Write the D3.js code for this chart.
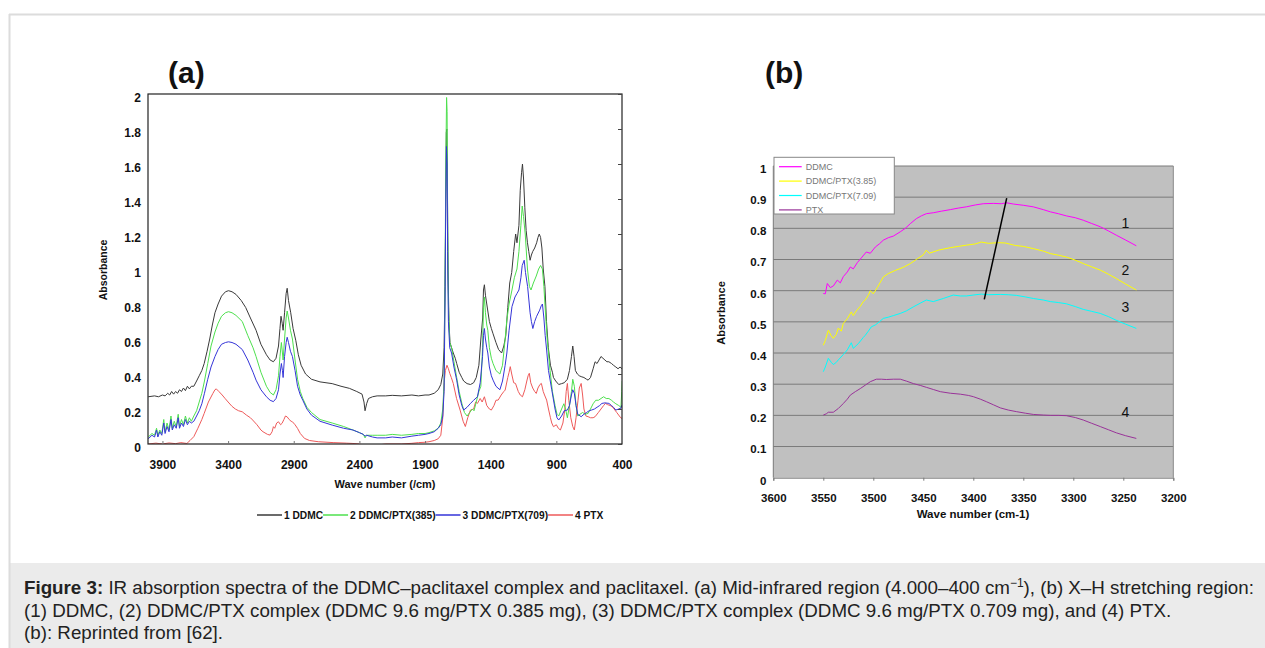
<!DOCTYPE html>
<html><head><meta charset="utf-8">
<script src="https://cdn.jsdelivr.net/npm/d3@7"></script>
<style>body{margin:0;background:#fff}svg{display:block;font-family:"Liberation Sans",Arial,sans-serif}</style>
</head><body>
<script>
// ---------- Panel (a) data: [wavenumber, absorbance] ----------
const seriesNamesA = ["1 DDMC","2 DDMC/PTX(385)","3 DDMC/PTX(709)","4 PTX"];
const xTicksA = [3900,3400,2900,2400,1900,1400,900,400];
const yTicksA = [0,0.2,0.4,0.6,0.8,1,1.2,1.4,1.6,1.8,2];
const ddmcA = [[4008,0.27],[3960,0.275],[3930,0.27],[3900,0.28],[3880,0.275],[3860,0.29],[3845,0.28],[3830,0.3],[3815,0.285],[3800,0.30],[3785,0.29],[3770,0.31],[3755,0.30],[3740,0.32],[3725,0.305],[3710,0.33],[3695,0.315],[3680,0.33],[3661,0.33],[3640,0.36],[3620,0.39],[3600,0.42],[3582,0.46],[3560,0.53],[3540,0.6],[3520,0.68],[3500,0.75],[3476,0.80],[3450,0.845],[3420,0.87],[3397,0.876],[3370,0.87],[3340,0.855],[3300,0.82],[3266,0.78],[3230,0.72],[3187,0.65],[3150,0.57],[3108,0.51],[3080,0.48],[3055,0.47],[3035,0.49],[3016,0.56],[3005,0.66],[2997,0.73],[2988,0.69],[2981,0.65],[2970,0.75],[2958,0.86],[2950,0.89],[2940,0.82],[2923,0.75],[2905,0.66],[2884,0.59],[2865,0.51],[2844,0.45],[2810,0.40],[2765,0.37],[2700,0.355],[2607,0.345],[2540,0.33],[2476,0.318],[2420,0.30],[2380,0.285],[2365,0.24],[2357,0.19],[2345,0.23],[2331,0.26],[2300,0.27],[2265,0.275],[2200,0.275],[2150,0.278],[2080,0.275],[2000,0.28],[1950,0.275],[1900,0.28],[1870,0.28],[1830,0.29],[1800,0.31],[1780,0.34],[1765,0.40],[1755,0.55],[1748,0.9],[1742,1.4],[1738,1.78],[1734,1.80],[1730,1.5],[1725,1.0],[1718,0.7],[1710,0.58],[1698,0.55],[1685,0.52],[1670,0.49],[1659,0.46],[1640,0.41],[1620,0.38],[1606,0.36],[1580,0.345],[1554,0.34],[1530,0.35],[1510,0.38],[1490,0.45],[1475,0.6],[1461,0.72],[1455,0.88],[1448,0.91],[1440,0.85],[1430,0.8],[1422,0.76],[1410,0.7],[1395,0.66],[1382,0.63],[1360,0.58],[1340,0.54],[1317,0.52],[1300,0.56],[1285,0.62],[1270,0.78],[1255,0.92],[1240,0.98],[1225,1.1],[1210,1.2],[1200,1.15],[1185,1.25],[1175,1.45],[1165,1.55],[1158,1.6],[1150,1.52],[1140,1.35],[1130,1.22],[1120,1.15],[1110,1.10],[1100,1.05],[1090,1.08],[1080,1.1],[1065,1.12],[1050,1.15],[1040,1.18],[1030,1.2],[1020,1.18],[1010,1.12],[1000,1.0],[987,0.9],[975,0.7],[961,0.55],[945,0.45],[930,0.41],[922,0.38],[905,0.36],[882,0.34],[860,0.345],[840,0.35],[816,0.37],[800,0.42],[785,0.5],[775,0.56],[765,0.5],[755,0.42],[740,0.40],[725,0.39],[711,0.385],[690,0.38],[670,0.37],[658,0.365],[640,0.38],[620,0.43],[605,0.47],[590,0.46],[575,0.48],[560,0.5],[545,0.49],[530,0.48],[515,0.47],[500,0.47],[480,0.46],[465,0.45],[447,0.44],[430,0.43],[415,0.44],[400,0.43]];
const ptx385A = [[4008,0.04],[3980,0.06],[3960,0.05],[3945,0.09],[3935,0.05],[3920,0.08],[3905,0.06],[3890,0.14],[3880,0.07],[3865,0.12],[3850,0.08],[3835,0.16],[3825,0.09],[3810,0.13],[3795,0.10],[3780,0.17],[3770,0.10],[3755,0.14],[3740,0.11],[3725,0.16],[3710,0.12],[3695,0.15],[3680,0.13],[3661,0.16],[3640,0.19],[3620,0.24],[3600,0.29],[3580,0.36],[3555,0.46],[3530,0.56],[3500,0.64],[3476,0.69],[3450,0.73],[3420,0.75],[3397,0.756],[3370,0.75],[3340,0.735],[3292,0.70],[3250,0.62],[3210,0.55],[3187,0.50],[3150,0.41],[3108,0.33],[3080,0.295],[3055,0.28],[3035,0.31],[3016,0.39],[3005,0.5],[2994,0.58],[2986,0.52],[2981,0.48],[2970,0.6],[2958,0.72],[2950,0.76],[2940,0.72],[2925,0.65],[2910,0.6],[2890,0.48],[2871,0.37],[2850,0.30],[2831,0.26],[2800,0.21],[2765,0.18],[2700,0.14],[2607,0.12],[2520,0.10],[2449,0.08],[2400,0.065],[2370,0.055],[2357,0.035],[2345,0.05],[2300,0.05],[2265,0.05],[2200,0.05],[2150,0.055],[2080,0.05],[2000,0.055],[1950,0.06],[1900,0.06],[1870,0.065],[1830,0.075],[1800,0.09],[1780,0.12],[1765,0.2],[1755,0.35],[1748,0.9],[1742,1.6],[1736,1.98],[1732,1.9],[1728,1.3],[1722,0.8],[1712,0.58],[1698,0.55],[1680,0.47],[1659,0.38],[1640,0.3],[1619,0.23],[1600,0.18],[1580,0.16],[1560,0.18],[1540,0.2],[1527,0.19],[1510,0.24],[1490,0.3],[1475,0.33],[1462,0.55],[1455,0.78],[1448,0.84],[1440,0.75],[1430,0.68],[1422,0.65],[1410,0.55],[1395,0.49],[1382,0.46],[1360,0.42],[1330,0.40],[1310,0.45],[1290,0.6],[1277,0.71],[1260,0.8],[1238,0.88],[1220,0.95],[1200,1.0],[1185,1.1],[1170,1.25],[1160,1.36],[1150,1.3],[1137,1.2],[1120,1.0],[1105,0.9],[1093,0.88],[1075,0.92],[1053,0.96],[1035,1.0],[1020,1.02],[1006,1.0],[995,0.9],[987,0.8],[970,0.6],[948,0.42],[930,0.3],[910,0.22],[895,0.17],[882,0.16],[860,0.2],[843,0.23],[830,0.2],[816,0.15],[800,0.22],[785,0.3],[775,0.37],[763,0.33],[750,0.22],[737,0.16],[720,0.17],[700,0.18],[680,0.17],[658,0.175],[640,0.2],[620,0.23],[600,0.25],[579,0.25],[560,0.26],[540,0.27],[520,0.26],[500,0.26],[480,0.25],[465,0.24],[447,0.23],[425,0.22],[408,0.21],[402,0.3],[398,0.36]];
const ptx709A = [[4008,0.03],[3980,0.05],[3960,0.04],[3945,0.08],[3935,0.04],[3920,0.07],[3905,0.05],[3890,0.12],[3880,0.06],[3865,0.10],[3850,0.07],[3835,0.14],[3825,0.08],[3810,0.11],[3795,0.09],[3780,0.15],[3770,0.09],[3755,0.12],[3740,0.10],[3725,0.14],[3710,0.11],[3695,0.13],[3680,0.12],[3661,0.13],[3640,0.16],[3620,0.19],[3600,0.23],[3580,0.29],[3555,0.37],[3530,0.44],[3500,0.5],[3476,0.54],[3450,0.57],[3420,0.58],[3397,0.584],[3370,0.58],[3340,0.57],[3292,0.54],[3250,0.48],[3210,0.41],[3187,0.365],[3150,0.31],[3108,0.27],[3080,0.25],[3055,0.242],[3035,0.26],[3016,0.31],[3005,0.4],[2994,0.46],[2986,0.42],[2981,0.38],[2970,0.5],[2958,0.58],[2950,0.61],[2940,0.58],[2925,0.53],[2910,0.5],[2890,0.42],[2871,0.33],[2850,0.28],[2831,0.25],[2800,0.2],[2765,0.165],[2700,0.13],[2607,0.108],[2520,0.09],[2449,0.08],[2400,0.065],[2370,0.055],[2357,0.045],[2345,0.05],[2300,0.04],[2265,0.035],[2200,0.035],[2150,0.04],[2080,0.035],[2000,0.045],[1950,0.05],[1900,0.055],[1870,0.06],[1830,0.07],[1800,0.09],[1780,0.11],[1765,0.16],[1755,0.3],[1748,0.8],[1742,1.4],[1737,1.70],[1732,1.6],[1728,1.1],[1722,0.7],[1712,0.55],[1698,0.52],[1680,0.44],[1659,0.365],[1640,0.28],[1620,0.22],[1606,0.194],[1580,0.21],[1554,0.232],[1530,0.25],[1501,0.27],[1480,0.35],[1462,0.5],[1455,0.62],[1448,0.66],[1440,0.6],[1430,0.55],[1422,0.52],[1410,0.44],[1395,0.39],[1382,0.365],[1360,0.33],[1330,0.31],[1310,0.36],[1290,0.45],[1277,0.52],[1260,0.65],[1238,0.785],[1215,0.84],[1200,0.86],[1185,0.88],[1170,0.95],[1160,1.02],[1145,1.05],[1135,0.98],[1119,0.9],[1100,0.75],[1090,0.7],[1079,0.66],[1065,0.7],[1050,0.73],[1027,0.765],[1015,0.79],[1006,0.8],[995,0.72],[985,0.62],[974,0.537],[960,0.42],[935,0.31],[910,0.2],[895,0.15],[882,0.137],[860,0.16],[840,0.19],[816,0.194],[800,0.22],[785,0.28],[775,0.31],[763,0.29],[750,0.22],[737,0.17],[711,0.156],[690,0.17],[670,0.18],[650,0.19],[632,0.194],[610,0.2],[590,0.21],[570,0.22],[553,0.232],[530,0.235],[500,0.232],[480,0.22],[465,0.21],[447,0.194],[425,0.2],[408,0.205],[402,0.22],[398,0.21]];
const ptxA = [[4008,0.0],[3950,0.005],[3900,0.0],[3850,0.006],[3800,0.002],[3760,0.008],[3714,0.003],[3690,0.02],[3661,0.042],[3630,0.09],[3600,0.14],[3582,0.175],[3550,0.24],[3516,0.289],[3500,0.31],[3490,0.315],[3470,0.30],[3445,0.28],[3424,0.261],[3400,0.24],[3370,0.215],[3345,0.2],[3320,0.19],[3292,0.184],[3260,0.165],[3230,0.15],[3213,0.137],[3180,0.11],[3150,0.08],[3134,0.07],[3100,0.055],[3081,0.051],[3065,0.07],[3055,0.099],[3045,0.09],[3030,0.12],[3016,0.127],[3000,0.11],[2989,0.118],[2975,0.14],[2963,0.16],[2950,0.155],[2935,0.14],[2920,0.13],[2910,0.127],[2890,0.11],[2871,0.089],[2850,0.06],[2818,0.032],[2780,0.02],[2713,0.013],[2600,0.008],[2500,0.005],[2449,0.003],[2400,0.0],[2370,-0.005],[2357,-0.016],[2345,-0.008],[2300,-0.004],[2265,-0.006],[2200,0.0],[2080,0.0],[2000,0.004],[1950,0.008],[1900,0.01],[1870,0.013],[1830,0.02],[1800,0.03],[1780,0.05],[1765,0.15],[1755,0.35],[1745,0.42],[1733,0.45],[1722,0.43],[1712,0.404],[1700,0.38],[1685,0.346],[1660,0.26],[1633,0.194],[1610,0.13],[1593,0.1],[1575,0.15],[1554,0.194],[1530,0.2],[1515,0.24],[1501,0.232],[1480,0.26],[1465,0.24],[1448,0.27],[1430,0.22],[1410,0.2],[1395,0.194],[1375,0.22],[1360,0.25],[1343,0.251],[1320,0.28],[1300,0.3],[1290,0.308],[1270,0.38],[1260,0.41],[1251,0.442],[1240,0.4],[1225,0.35],[1211,0.346],[1190,0.3],[1175,0.28],[1158,0.27],[1140,0.31],[1125,0.36],[1115,0.39],[1106,0.404],[1095,0.35],[1080,0.32],[1065,0.3],[1053,0.289],[1040,0.32],[1025,0.34],[1014,0.346],[1000,0.3],[990,0.28],[974,0.251],[960,0.2],[945,0.15],[935,0.12],[922,0.099],[900,0.11],[885,0.09],[869,0.08],[850,0.12],[835,0.2],[825,0.3],[816,0.346],[805,0.25],[790,0.15],[775,0.1],[763,0.08],[750,0.15],[735,0.25],[725,0.32],[711,0.346],[700,0.28],[690,0.2],[675,0.16],[658,0.156],[640,0.15],[620,0.15],[605,0.156],[580,0.18],[560,0.2],[540,0.22],[526,0.232],[510,0.225],[490,0.22],[474,0.213],[460,0.2],[440,0.18],[420,0.16],[410,0.15],[400,0.146]];

// ---------- Panel (b) data ----------
const seriesNamesB = ["DDMC","DDMC/PTX(3.85)","DDMC/PTX(7.09)","PTX"];
const xTicksB = [3600,3550,3500,3450,3400,3350,3300,3250,3200];
const yTicksB = [0,0.1,0.2,0.3,0.4,0.5,0.6,0.7,0.8,0.9,1];
const ddmcB = [[3550,0.591],[3548,0.59],[3546,0.623],[3543,0.61],[3540,0.615],[3536,0.634],[3533,0.625],[3530,0.645],[3526,0.66],[3523,0.676],[3520,0.67],[3516,0.69],[3512,0.705],[3507,0.724],[3503,0.72],[3498,0.74],[3494,0.75],[3490,0.762],[3485,0.77],[3480,0.775],[3473,0.789],[3468,0.8],[3463,0.815],[3457,0.831],[3452,0.84],[3447,0.847],[3440,0.85],[3432,0.855],[3423,0.86],[3415,0.865],[3407,0.869],[3398,0.875],[3390,0.879],[3380,0.88],[3372,0.879],[3367,0.882],[3360,0.878],[3350,0.874],[3340,0.869],[3330,0.86],[3323,0.853],[3315,0.847],[3307,0.84],[3298,0.834],[3290,0.826],[3282,0.816],[3273,0.805],[3265,0.792],[3257,0.778],[3248,0.763],[3237,0.744]];
const ptx385B = [[3550,0.425],[3548,0.44],[3545,0.473],[3542,0.455],[3540,0.447],[3537,0.46],[3535,0.48],[3532,0.47],[3530,0.495],[3526,0.51],[3522,0.532],[3520,0.52],[3517,0.535],[3513,0.55],[3510,0.565],[3508,0.57],[3505,0.585],[3503,0.6],[3500,0.59],[3496,0.61],[3490,0.644],[3485,0.655],[3478,0.665],[3470,0.675],[3463,0.687],[3457,0.7],[3450,0.715],[3447,0.73],[3444,0.72],[3435,0.73],[3423,0.738],[3415,0.742],[3407,0.746],[3398,0.75],[3392,0.756],[3385,0.752],[3375,0.754],[3368,0.753],[3358,0.745],[3350,0.742],[3340,0.735],[3330,0.727],[3323,0.719],[3315,0.714],[3307,0.708],[3298,0.698],[3290,0.687],[3282,0.677],[3273,0.666],[3265,0.653],[3257,0.639],[3248,0.622],[3237,0.602]];
const ptx709B = [[3550,0.34],[3548,0.355],[3545,0.383],[3542,0.37],[3540,0.363],[3537,0.37],[3535,0.378],[3530,0.395],[3526,0.41],[3522,0.433],[3520,0.415],[3515,0.43],[3510,0.45],[3508,0.457],[3505,0.47],[3502,0.484],[3498,0.49],[3494,0.5],[3490,0.511],[3485,0.515],[3480,0.52],[3473,0.527],[3467,0.535],[3460,0.548],[3453,0.56],[3447,0.57],[3440,0.565],[3430,0.575],[3420,0.586],[3413,0.583],[3407,0.583],[3400,0.586],[3392,0.589],[3385,0.587],[3373,0.588],[3365,0.587],[3357,0.585],[3348,0.58],[3340,0.575],[3330,0.57],[3323,0.565],[3315,0.562],[3307,0.558],[3298,0.549],[3290,0.54],[3282,0.534],[3273,0.527],[3265,0.517],[3257,0.505],[3248,0.493],[3237,0.479]];
const ptxB = [[3550,0.201],[3547,0.205],[3545,0.21],[3540,0.21],[3535,0.222],[3530,0.238],[3526,0.252],[3523,0.265],[3518,0.276],[3513,0.286],[3508,0.297],[3503,0.308],[3497,0.316],[3492,0.316],[3487,0.315],[3480,0.316],[3473,0.316],[3467,0.31],[3460,0.302],[3453,0.296],[3447,0.29],[3440,0.283],[3433,0.276],[3423,0.271],[3413,0.268],[3405,0.264],[3400,0.26],[3393,0.252],[3387,0.244],[3380,0.234],[3373,0.224],[3365,0.217],[3357,0.212],[3348,0.207],[3340,0.203],[3330,0.201],[3323,0.2],[3315,0.2],[3307,0.199],[3298,0.193],[3290,0.185],[3282,0.175],[3273,0.164],[3265,0.154],[3257,0.144],[3248,0.135],[3237,0.126]];
const trendLineB = [[3366.6,0.897],[3389,0.572]];
const curveLabelsB = [["1",3248,0.80],["2",3248,0.65],["3",3248,0.533],["4",3248,0.195]];

const W = 1265, H = 648;
const svg = d3.select("body").append("svg").attr("width", W).attr("height", H);

// ---------- Frame & caption ----------
svg.append("rect").attr("x",10).attr("y",563).attr("width",W-10).attr("height",H-563).attr("fill","#ebebeb");
svg.append("line").attr("x1",9).attr("x2",W).attr("y1",14.5).attr("y2",14.5).attr("stroke","#dcdcdc").attr("stroke-width",2);
svg.append("line").attr("x1",9.5).attr("x2",9.5).attr("y1",14).attr("y2",H).attr("stroke","#dcdcdc").attr("stroke-width",2);

const cap = svg.append("g").attr("font-family","'Liberation Sans',Arial,sans-serif").attr("font-size",18.75).attr("fill","#222");
const t1 = cap.append("text").attr("x",24).attr("y",594);
t1.append("tspan").attr("font-weight","bold").text("Figure 3:");
t1.append("tspan").text(" IR absorption spectra of the DDMC\u2013paclitaxel complex and paclitaxel. (a) Mid-infrared region (4.000\u2013400 cm");
t1.append("tspan").attr("font-size",12).attr("dy",-7).text("\u22121");
t1.append("tspan").attr("dy",7).text("), (b) X\u2013H stretching region:");
cap.append("text").attr("x",24).attr("y",617).text("(1) DDMC, (2) DDMC/PTX complex (DDMC 9.6 mg/PTX 0.385 mg), (3) DDMC/PTX complex (DDMC 9.6 mg/PTX 0.709 mg), and (4) PTX.");
cap.append("text").attr("x",24).attr("y",639).text("(b): Reprinted from [62].");

// ---------- Panel (a) ----------
const xA = d3.scaleLinear().domain([4010,400]).range([148,622]);
const yA = d3.scaleLinear().domain([0,2]).range([444,94]);
const gA = svg.append("g");
gA.append("text").attr("x",168).attr("y",83).attr("font-size",30).attr("font-weight","bold").attr("fill","#111").text("(a)");

const colorsA = ["#3a3a3a","#4ee04e","#3535d8","#ee5a5a"];
const lineA = d3.line().x(d=>xA(d[0])).y(d=>yA(d[1]));
gA.append("clipPath").attr("id","clipA").append("rect").attr("x",148).attr("y",94).attr("width",474).attr("height",350);
const linesG = gA.append("g").attr("clip-path","url(#clipA)");
[[ddmcA,colorsA[0]],[ptxA,colorsA[3]],[ptx385A,colorsA[1]],[ptx709A,colorsA[2]]].forEach(([d,c])=>{
  linesG.append("path").datum(d).attr("d",lineA).attr("fill","none").attr("stroke",c).attr("stroke-width",1);
});
gA.append("rect").attr("x",148).attr("y",94).attr("width",474).attr("height",350).attr("fill","none").attr("stroke","#222").attr("stroke-width",1.2);
const axL = gA.append("g").attr("transform","translate(148,0)").call(d3.axisLeft(yA).tickValues(yTicksA).tickSize(0).tickFormat(d3.format("~g")));
axL.select(".domain").remove();
axL.selectAll("text").attr("font-size",12).attr("font-weight","bold").attr("fill","#111").attr("dx",-4).attr("dy","0.62em");
const axR = gA.append("g").attr("transform","translate(622,0)").call(d3.axisLeft(yA).tickValues(yTicksA).tickSize(4).tickFormat(""));
axR.select(".domain").remove(); axR.selectAll("line").attr("stroke","#444");
const axB = gA.append("g").attr("transform","translate(0,444)").call(d3.axisTop(xA).tickValues(xTicksA).tickSize(3).tickFormat(""));
axB.select(".domain").remove(); axB.selectAll("line").attr("stroke","#777");
const axB2 = gA.append("g").attr("transform","translate(0,444)").call(d3.axisBottom(xA).tickValues(xTicksA).tickSize(0).tickFormat(d3.format("d")));
axB2.select(".domain").remove();
axB2.selectAll("text").attr("font-size",12).attr("font-weight","bold").attr("fill","#111").attr("dy","1.85em");
gA.append("text").attr("transform","translate(107,270) rotate(-90)").attr("text-anchor","middle").attr("font-size",10.5).attr("font-weight","bold").attr("fill","#111").text("Absorbance");
gA.append("text").attr("x",385).attr("y",488).attr("text-anchor","middle").attr("font-size",11).attr("font-weight","bold").attr("fill","#111").text("Wave number (/cm)");
const legA = gA.append("g").attr("font-size",10.2).attr("font-weight","bold").attr("fill","#111");
let lx = 257;
seriesNamesA.forEach((n,i)=>{
  legA.append("line").attr("x1",lx).attr("x2",lx+25).attr("y1",515).attr("y2",515).attr("stroke",colorsA[i]).attr("stroke-width",1.5);
  const t = legA.append("text").attr("x",lx+27).attr("y",519).text(n);
  lx += 27 + t.node().getComputedTextLength();
});

// ---------- Panel (b) ----------
const xB = d3.scaleLinear().domain([3600,3200]).range([773.3,1173.3]);
const yB = d3.scaleLinear().domain([0,1]).range([477.7,166]);
const gB = svg.append("g");
gB.append("text").attr("x",765).attr("y",83).attr("font-size",30).attr("font-weight","bold").attr("fill","#111").text("(b)");
gB.append("rect").attr("x",773.3).attr("y",166).attr("width",400).attr("height",311.7).attr("fill","#c0c0c0");
gB.selectAll("line.grid").data(yTicksB.slice(1)).join("line").attr("class","grid")
  .attr("x1",773.3).attr("x2",1173.3).attr("y1",d=>yB(d)).attr("y2",d=>yB(d)).attr("stroke","#7a7a7a").attr("stroke-width",1);
gB.append("line").attr("x1",1173.3).attr("x2",1173.3).attr("y1",166).attr("y2",477.7).attr("stroke","#8a8a8a");
gB.append("line").attr("x1",773.3).attr("x2",773.3).attr("y1",166).attr("y2",477.7).attr("stroke","#7a7a7a");
const axBB = gB.append("g").attr("transform","translate(0,477.7)").call(d3.axisBottom(xB).tickValues(xTicksB).tickSize(3).tickFormat(d3.format("d")));
axBB.select(".domain").attr("stroke","#7a7a7a");
axBB.selectAll("line").attr("stroke","#7a7a7a");
axBB.selectAll("text").attr("font-size",11.5).attr("font-weight","bold").attr("fill","#111").attr("dy","1.6em");
const axBL = gB.append("g").attr("transform","translate(773.3,0)").call(d3.axisLeft(yB).tickValues(yTicksB).tickSize(0).tickFormat(d3.format("~g")));
axBL.select(".domain").remove();
axBL.selectAll("text").attr("font-size",11.5).attr("font-weight","bold").attr("fill","#111").attr("dx",-4).attr("dy","0.55em");
gB.append("text").attr("transform","translate(725,313) rotate(-90)").attr("text-anchor","middle").attr("font-size",11).attr("font-weight","bold").attr("fill","#111").text("Absorbance");
gB.append("text").attr("x",973).attr("y",518).attr("text-anchor","middle").attr("font-size",11.5).attr("font-weight","bold").attr("fill","#111").text("Wave number (cm-1)");

const colorsB = ["#ff00ff","#ffff00","#00ffff","#993399"];
const lineB = d3.line().x(d=>xB(d[0])).y(d=>yB(d[1]));
[ddmcB, ptx385B, ptx709B, ptxB].forEach((d,i)=>{
  gB.append("path").datum(d).attr("d",lineB).attr("fill","none").attr("stroke",colorsB[i]).attr("stroke-width",1);
});
gB.append("path").datum(trendLineB).attr("d",lineB).attr("fill","none").attr("stroke","#000").attr("stroke-width",1.5);
gB.selectAll("text.cl").data(curveLabelsB).join("text").attr("class","cl")
  .attr("x",d=>xB(d[1])).attr("y",d=>yB(d[2])).attr("text-anchor","middle").attr("font-size",14).attr("fill","#111").text(d=>d[0]);
const legB = gB.append("g");
legB.append("rect").attr("x",774).attr("y",157.3).attr("width",120.3).attr("height",56.7).attr("fill","#fff").attr("stroke","#888");
seriesNamesB.forEach((n,i)=>{
  const yy = 166.7 + i*14.4;
  legB.append("line").attr("x1",779).attr("x2",801.7).attr("y1",yy).attr("y2",yy).attr("stroke",colorsB[i]).attr("stroke-width",1.2);
  legB.append("text").attr("x",805.7).attr("y",yy+3.3).attr("font-size",9).attr("fill","#777").text(n);
});
</script>
</body></html>
